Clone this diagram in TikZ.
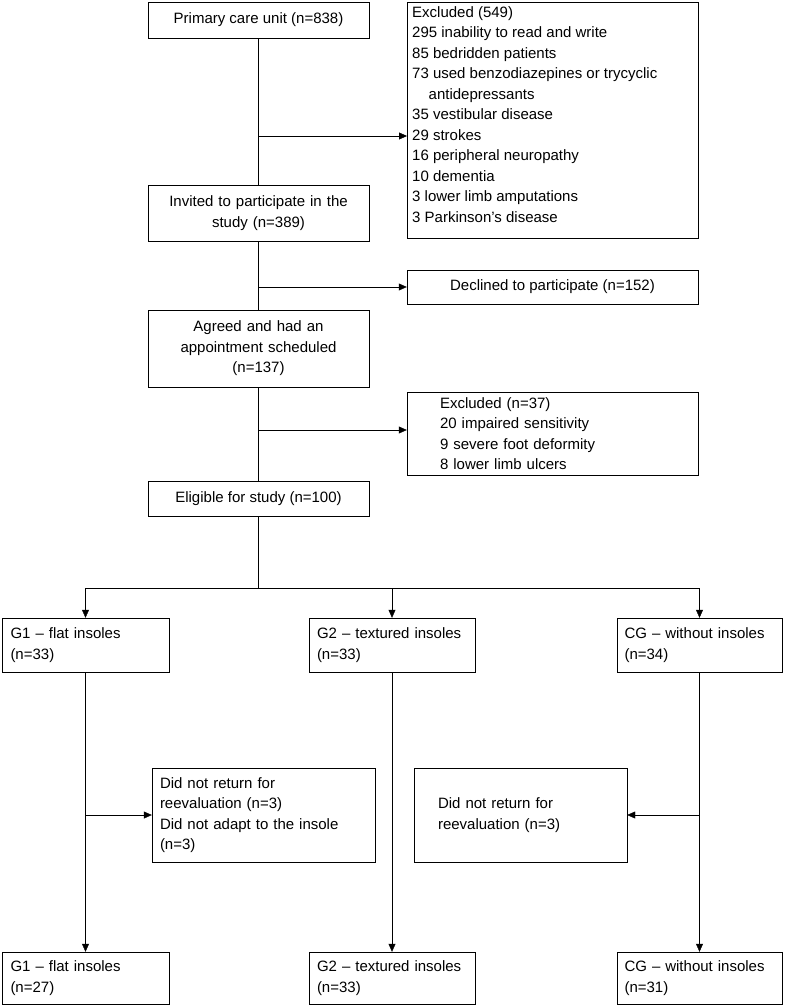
\documentclass[tikz,border=0pt]{standalone}
\usepackage{fontspec}
\setmainfont{Liberation Sans}
\usetikzlibrary{arrows.meta}
\tikzset{
  box/.style={draw, inner sep=5pt, font=\fontsize{15}{20.5}\selectfont},
  arr/.style={-{Triangle[length=8pt,width=7pt]}}
}
\begin{document}
\begin{tikzpicture}[x=1pt,y=-1pt]
        \useasboundingbox (0,0) rectangle (784,1006);
        % main column
        \node[box, minimum width=221, minimum height=36] (prim) at (258.5,20) {Primary care unit (n=838)};
        \node[box, minimum width=221, minimum height=56, align=center, text width=205] (inv) at (258.5,213) {Invited to participate in the\\ study (n=389)};
        \node[box, minimum width=221, minimum height=77, align=center, text width=205] (agr) at (258.5,348.5) {Agreed and had an\\ appointment scheduled\\ (n=137)};
        \node[box, minimum width=221, minimum height=35] (elig) at (258.5,498.5) {Eligible for study (n=100)};
        % side boxes
        \node[draw, minimum width=291, minimum height=236, anchor=north west] (exc) at (407,2) {};
        \node[font=\fontsize{15}{20.5}\selectfont, align=left, anchor=north west, inner sep=0pt] (exct) at (412,6) {Excluded (549)\\ 295 inability to read and write\\ 85 bedridden patients\\ 73 used benzodiazepines or trycyclic\\ \hspace*{1.1em}antidepressants\\ 35 vestibular disease\\ 29 strokes\\ 16 peripheral neuropathy\\ 10 dementia\\ 3 lower limb amputations\\ 3 Parkinson's disease};
        \node[box, minimum width=291, minimum height=34] (decl) at (552.5,287) {Declined to participate (n=152)};
        \node[box, minimum width=291, minimum height=77, align=left, text width=225] (exb) at (552.5,433.5) {Excluded (n=37)\\ 20 impaired sensitivity\\ 9 severe foot deformity\\ 8 lower limb ulcers};
        % groups
        \node[box, minimum width=167, minimum height=54, align=left, text width=150] (g1) at (85.5,645) {G1 -- flat insoles\\ (n=33)};
        \node[box, minimum width=166, minimum height=54, align=left, text width=150] (g2) at (392,645) {G2 -- textured insoles\\ (n=33)};
        \node[box, minimum width=165, minimum height=54, align=left, text width=150] (cg) at (699.5,645) {CG -- without insoles\\ (n=34)};
        \node[box, minimum width=223, minimum height=94, align=left, text width=207] (ret1) at (263.5,815) {Did not return for\\ reevaluation (n=3)\\ Did not adapt to the insole\\ (n=3)};
        \node[box, minimum width=213, minimum height=94, align=left, text width=165] (ret2) at (520.5,815) {Did not return for\\ reevaluation (n=3)};
        \node[box, minimum width=167, minimum height=52, align=left, text width=150] (f1) at (85.5,978) {G1 -- flat insoles\\ (n=27)};
        \node[box, minimum width=166, minimum height=52, align=left, text width=150] (f2) at (392,978) {G2 -- textured insoles\\ (n=33)};
        \node[box, minimum width=165, minimum height=52, align=left, text width=150] (f3) at (699.5,978) {CG -- without insoles\\ (n=31)};
        % junctions
        \coordinate (j1) at (258.5,136);
        \coordinate (j2) at (258.5,287);
        \coordinate (j3) at (258.5,430);
        \coordinate (j4) at (258.5,588);
        \coordinate (j5) at (85.5,815);
        \coordinate (j6) at (699.5,815);
        % connectors
        \draw (prim)--(inv);
        \draw (inv)--(agr);
        \draw (agr)--(elig);
        \draw[arr] (j1)--(j1-|exc.west);
        \draw[arr] (j2)--(decl.west);
        \draw[arr] (j3)--(j3-|exb.west);
        \draw (elig)--(j4);
        \draw (j4-|g1)--(j4-|cg);
        \draw[arr] (j4-|g1)--(g1);
        \draw[arr] (j4-|g2)--(g2);
        \draw[arr] (j4-|cg)--(cg);
        \draw[arr] (g1)--(f1);
        \draw[arr] (g2)--(f2);
        \draw[arr] (cg)--(f3);
        \draw[arr] (j5)--(ret1.west);
        \draw[arr] (j6)--(ret2.east);
\end{tikzpicture}
\end{document}
